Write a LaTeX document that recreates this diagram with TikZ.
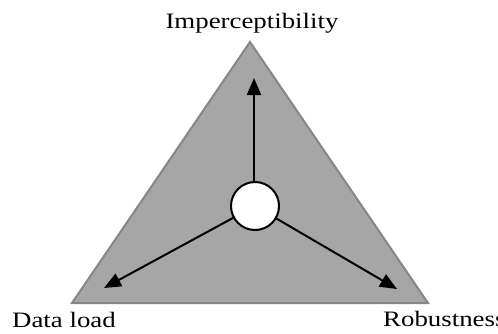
\documentclass[tikz,border=0pt]{standalone}
\usepackage{fontspec}
\setmainfont[FakeStretch=1.22]{Liberation Serif}
\usetikzlibrary{arrows.meta}
\definecolor{trifill}{HTML}{A6A6A6}
\definecolor{triedge}{HTML}{868686}
\tikzset{
  lbl/.style={font=\fontsize{22}{25}\selectfont, inner sep=0pt},
  arr/.style={line width=2pt, -{Triangle[length=17pt,width=14pt]}},
}
\begin{document}
\begin{tikzpicture}[x=1pt,y=-1pt]
\useasboundingbox (0,0) rectangle (498,333);
\coordinate (A) at (250,42);
\coordinate (B) at (72,303);
\coordinate (C) at (428,303);
\draw[fill=trifill, draw=triedge, line width=2pt, line join=miter] (A) -- (B) -- (C) -- cycle;
\node[circle, draw=black, fill=white, line width=2pt, minimum size=48pt, inner sep=0pt] (hub) at (255,206) {};
\coordinate (tu) at (254,78);
\coordinate (tl) at (104,288);
\coordinate (tr) at (397,289);
\draw[arr] (hub.north -| tu) -- (tu);
\draw[arr] (hub) -- (tl);
\draw[arr] (hub) -- (tr);
\node[lbl, anchor=base] (imp) at (252,28) {Imperceptibility};
\node[lbl, anchor=base west] (dl) at (12,327) {Data load};
\node[lbl, anchor=base west] (rb) at (383,326) {Robustness};
\end{tikzpicture}
\end{document}
